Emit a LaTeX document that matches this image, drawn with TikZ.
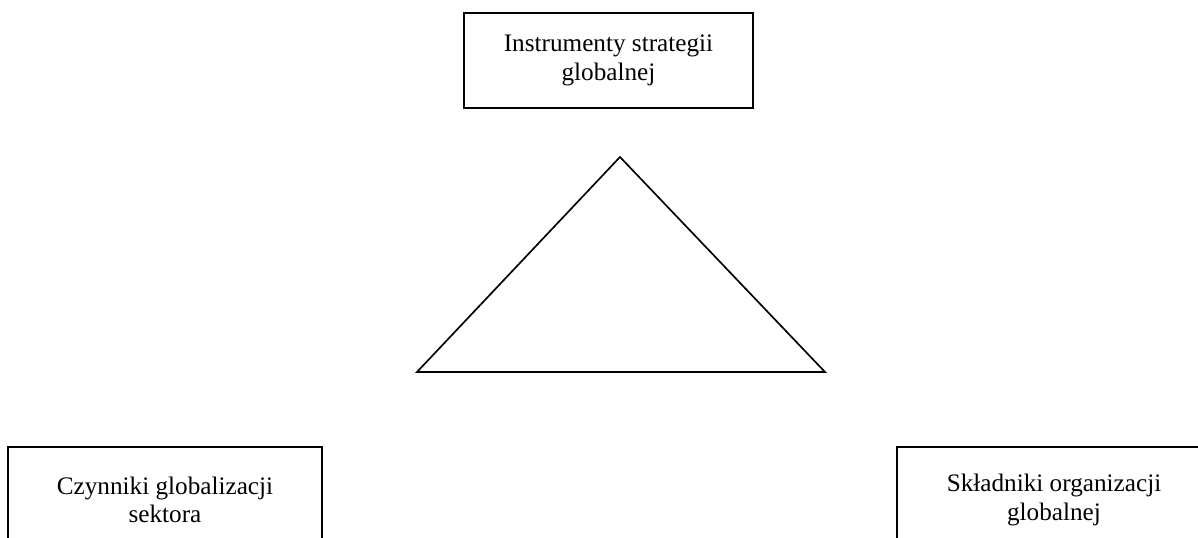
\documentclass[tikz,border=0pt]{standalone}
\usepackage{fontspec}
\setmainfont{Liberation Serif}
\usetikzlibrary{positioning}

\begin{document}
\begin{tikzpicture}[
  x=0.48pt, y=0.48pt,
  font=\fontsize{12.1}{13.6}\selectfont,
  box/.style={draw, line width=0.8pt, align=center, inner sep=0pt},
  tri/.style={draw, line width=0.8pt, line join=miter}
]
\useasboundingbox (0,0) rectangle (1198,-538);
\clip (0,0) rectangle (1198,-538);
% top
\node[box, minimum width=138.7pt, minimum height=45.6pt] (instr) at (608.5,-60.5) {Instrumenty strategii\\globalnej};
% triangle
\coordinate (apex) at (620,-157);
\coordinate (left) at (417,-372);
\coordinate (right) at (825,-372);
\draw[tri] (apex) -- (left) -- (right) -- cycle;
% bottom boxes
\node[box, minimum width=150.7pt, minimum height=50.9pt] (czyn) at (165,-500) {Czynniki globalizacji\\sektora};
\node[box, minimum width=150.7pt, minimum height=50.9pt] (sklad) at (1054,-500) {Składniki organizacji\\globalnej};
\end{tikzpicture}
\end{document}
